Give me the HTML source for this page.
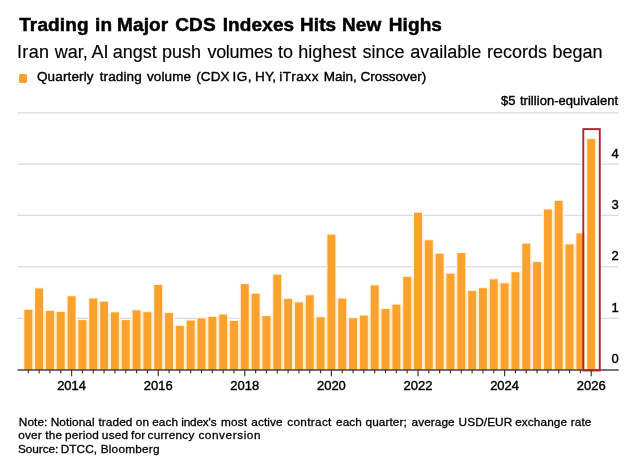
<!DOCTYPE html>
<html><head><meta charset="utf-8"><title>Trading in Major CDS Indexes Hits New Highs</title>
<style>
html,body{margin:0;padding:0;background:#fff;}
body{width:640px;height:462px;position:relative;overflow:hidden;font-family:"Liberation Sans",Arial,Helvetica,sans-serif;color:#000;}
.ln{position:absolute;left:0;width:640px;height:20px;line-height:20px;white-space:pre;}
.ln span{position:absolute;top:0;white-space:pre;}
.title{font-size:19px;font-weight:bold;-webkit-text-stroke:0.5px #000;}
.sub{font-size:18px;color:#000;-webkit-text-stroke:0.15px #000;}
.leg{font-size:13.5px;-webkit-text-stroke:0.4px #000;}
.ax{font-size:13px;-webkit-text-stroke:0.4px #000;}
.note{font-size:11.8px;-webkit-text-stroke:0.3px #000;}
#sq{position:absolute;left:18.6px;top:73.8px;width:8.8px;height:8.8px;background:#fba12e;border-radius:1.6px;}
.xl{position:absolute;width:60px;text-align:center;top:377.6px;line-height:15px;}
.yl{position:absolute;right:21.4px;line-height:15px;text-align:right;}
</style></head><body>
<svg width="640" height="462" viewBox="0 0 640 462" style="position:absolute;left:0;top:0">
<rect x="17.5" y="112.30" width="601.2" height="1.2" fill="#d9d9d9"/>
<rect x="17.5" y="163.60" width="601.2" height="1.2" fill="#d9d9d9"/>
<rect x="17.5" y="214.70" width="601.2" height="1.2" fill="#d9d9d9"/>
<rect x="17.5" y="266.20" width="601.2" height="1.2" fill="#d9d9d9"/>
<rect x="17.5" y="317.70" width="601.2" height="1.2" fill="#d9d9d9"/>
<rect x="23.05" y="308.75" width="10.5" height="61.25" fill="#fff6e2"/>
<rect x="33.88" y="287.40" width="10.5" height="82.60" fill="#fff6e2"/>
<rect x="44.70" y="309.90" width="10.5" height="60.10" fill="#fff6e2"/>
<rect x="55.52" y="311.00" width="10.5" height="59.00" fill="#fff6e2"/>
<rect x="66.35" y="295.25" width="10.5" height="74.75" fill="#fff6e2"/>
<rect x="77.17" y="319.10" width="10.5" height="50.90" fill="#fff6e2"/>
<rect x="88.00" y="297.50" width="10.5" height="72.50" fill="#fff6e2"/>
<rect x="98.82" y="300.70" width="10.5" height="69.30" fill="#fff6e2"/>
<rect x="109.65" y="311.40" width="10.5" height="58.60" fill="#fff6e2"/>
<rect x="120.47" y="319.10" width="10.5" height="50.90" fill="#fff6e2"/>
<rect x="131.30" y="309.30" width="10.5" height="60.70" fill="#fff6e2"/>
<rect x="142.12" y="311.20" width="10.5" height="58.80" fill="#fff6e2"/>
<rect x="152.95" y="284.00" width="10.5" height="86.00" fill="#fff6e2"/>
<rect x="163.78" y="312.10" width="10.5" height="57.90" fill="#fff6e2"/>
<rect x="174.60" y="324.90" width="10.5" height="45.10" fill="#fff6e2"/>
<rect x="185.43" y="319.60" width="10.5" height="50.40" fill="#fff6e2"/>
<rect x="196.25" y="317.40" width="10.5" height="52.60" fill="#fff6e2"/>
<rect x="207.07" y="315.90" width="10.5" height="54.10" fill="#fff6e2"/>
<rect x="217.90" y="313.60" width="10.5" height="56.40" fill="#fff6e2"/>
<rect x="228.72" y="320.00" width="10.5" height="50.00" fill="#fff6e2"/>
<rect x="239.55" y="283.10" width="10.5" height="86.90" fill="#fff6e2"/>
<rect x="250.38" y="292.80" width="10.5" height="77.20" fill="#fff6e2"/>
<rect x="261.20" y="315.10" width="10.5" height="54.90" fill="#fff6e2"/>
<rect x="272.02" y="273.70" width="10.5" height="96.30" fill="#fff6e2"/>
<rect x="282.85" y="297.90" width="10.5" height="72.10" fill="#fff6e2"/>
<rect x="293.68" y="301.40" width="10.5" height="68.60" fill="#fff6e2"/>
<rect x="304.50" y="294.30" width="10.5" height="75.70" fill="#fff6e2"/>
<rect x="315.32" y="316.25" width="10.5" height="53.75" fill="#fff6e2"/>
<rect x="326.15" y="233.70" width="10.5" height="136.30" fill="#fff6e2"/>
<rect x="336.97" y="297.50" width="10.5" height="72.50" fill="#fff6e2"/>
<rect x="347.80" y="317.20" width="10.5" height="52.80" fill="#fff6e2"/>
<rect x="358.62" y="314.60" width="10.5" height="55.40" fill="#fff6e2"/>
<rect x="369.45" y="284.40" width="10.5" height="85.60" fill="#fff6e2"/>
<rect x="380.27" y="308.00" width="10.5" height="62.00" fill="#fff6e2"/>
<rect x="391.10" y="303.70" width="10.5" height="66.30" fill="#fff6e2"/>
<rect x="401.93" y="275.90" width="10.5" height="94.10" fill="#fff6e2"/>
<rect x="412.75" y="211.75" width="10.5" height="158.25" fill="#fff6e2"/>
<rect x="423.57" y="239.30" width="10.5" height="130.70" fill="#fff6e2"/>
<rect x="434.40" y="252.80" width="10.5" height="117.20" fill="#fff6e2"/>
<rect x="445.22" y="272.70" width="10.5" height="97.30" fill="#fff6e2"/>
<rect x="456.05" y="252.10" width="10.5" height="117.90" fill="#fff6e2"/>
<rect x="466.88" y="290.00" width="10.5" height="80.00" fill="#fff6e2"/>
<rect x="477.70" y="287.20" width="10.5" height="82.80" fill="#fff6e2"/>
<rect x="488.52" y="278.30" width="10.5" height="91.70" fill="#fff6e2"/>
<rect x="499.35" y="282.30" width="10.5" height="87.70" fill="#fff6e2"/>
<rect x="510.17" y="271.25" width="10.5" height="98.75" fill="#fff6e2"/>
<rect x="521.00" y="242.70" width="10.5" height="127.30" fill="#fff6e2"/>
<rect x="531.82" y="261.10" width="10.5" height="108.90" fill="#fff6e2"/>
<rect x="542.65" y="208.50" width="10.5" height="161.50" fill="#fff6e2"/>
<rect x="553.47" y="199.90" width="10.5" height="170.10" fill="#fff6e2"/>
<rect x="564.30" y="243.40" width="10.5" height="126.60" fill="#fff6e2"/>
<rect x="575.12" y="232.40" width="10.5" height="137.60" fill="#fff6e2"/>
<rect x="585.95" y="138.10" width="10.5" height="231.90" fill="#fff6e2"/>
<rect x="32.05" y="309.75" width="3.32" height="60.25" fill="#ffefcc"/>
<rect x="42.88" y="310.90" width="3.32" height="59.10" fill="#ffefcc"/>
<rect x="53.70" y="312.00" width="3.32" height="58.00" fill="#ffefcc"/>
<rect x="64.52" y="312.00" width="3.32" height="58.00" fill="#ffefcc"/>
<rect x="75.35" y="320.10" width="3.32" height="49.90" fill="#ffefcc"/>
<rect x="86.17" y="320.10" width="3.32" height="49.90" fill="#ffefcc"/>
<rect x="97.00" y="301.70" width="3.32" height="68.30" fill="#ffefcc"/>
<rect x="107.82" y="312.40" width="3.32" height="57.60" fill="#ffefcc"/>
<rect x="118.65" y="320.10" width="3.32" height="49.90" fill="#ffefcc"/>
<rect x="129.47" y="320.10" width="3.32" height="49.90" fill="#ffefcc"/>
<rect x="140.30" y="312.20" width="3.32" height="57.80" fill="#ffefcc"/>
<rect x="151.12" y="312.20" width="3.32" height="57.80" fill="#ffefcc"/>
<rect x="161.95" y="313.10" width="3.32" height="56.90" fill="#ffefcc"/>
<rect x="172.78" y="325.90" width="3.32" height="44.10" fill="#ffefcc"/>
<rect x="183.60" y="325.90" width="3.32" height="44.10" fill="#ffefcc"/>
<rect x="194.43" y="320.60" width="3.32" height="49.40" fill="#ffefcc"/>
<rect x="205.25" y="318.40" width="3.32" height="51.60" fill="#ffefcc"/>
<rect x="216.07" y="316.90" width="3.32" height="53.10" fill="#ffefcc"/>
<rect x="226.90" y="321.00" width="3.32" height="49.00" fill="#ffefcc"/>
<rect x="237.72" y="321.00" width="3.32" height="49.00" fill="#ffefcc"/>
<rect x="248.55" y="293.80" width="3.32" height="76.20" fill="#ffefcc"/>
<rect x="259.38" y="316.10" width="3.32" height="53.90" fill="#ffefcc"/>
<rect x="270.20" y="316.10" width="3.32" height="53.90" fill="#ffefcc"/>
<rect x="281.02" y="298.90" width="3.32" height="71.10" fill="#ffefcc"/>
<rect x="291.85" y="302.40" width="3.32" height="67.60" fill="#ffefcc"/>
<rect x="302.68" y="302.40" width="3.32" height="67.60" fill="#ffefcc"/>
<rect x="313.50" y="317.25" width="3.32" height="52.75" fill="#ffefcc"/>
<rect x="324.32" y="317.25" width="3.32" height="52.75" fill="#ffefcc"/>
<rect x="335.15" y="298.50" width="3.32" height="71.50" fill="#ffefcc"/>
<rect x="345.97" y="318.20" width="3.32" height="51.80" fill="#ffefcc"/>
<rect x="356.80" y="318.20" width="3.32" height="51.80" fill="#ffefcc"/>
<rect x="367.62" y="315.60" width="3.32" height="54.40" fill="#ffefcc"/>
<rect x="378.45" y="309.00" width="3.32" height="61.00" fill="#ffefcc"/>
<rect x="389.27" y="309.00" width="3.32" height="61.00" fill="#ffefcc"/>
<rect x="400.10" y="304.70" width="3.32" height="65.30" fill="#ffefcc"/>
<rect x="410.93" y="276.90" width="3.32" height="93.10" fill="#ffefcc"/>
<rect x="421.75" y="240.30" width="3.32" height="129.70" fill="#ffefcc"/>
<rect x="432.57" y="253.80" width="3.32" height="116.20" fill="#ffefcc"/>
<rect x="443.40" y="273.70" width="3.32" height="96.30" fill="#ffefcc"/>
<rect x="454.22" y="273.70" width="3.32" height="96.30" fill="#ffefcc"/>
<rect x="465.05" y="291.00" width="3.32" height="79.00" fill="#ffefcc"/>
<rect x="475.88" y="291.00" width="3.32" height="79.00" fill="#ffefcc"/>
<rect x="486.70" y="288.20" width="3.32" height="81.80" fill="#ffefcc"/>
<rect x="497.52" y="283.30" width="3.32" height="86.70" fill="#ffefcc"/>
<rect x="508.35" y="283.30" width="3.32" height="86.70" fill="#ffefcc"/>
<rect x="519.17" y="272.25" width="3.32" height="97.75" fill="#ffefcc"/>
<rect x="530.00" y="262.10" width="3.32" height="107.90" fill="#ffefcc"/>
<rect x="540.82" y="262.10" width="3.32" height="107.90" fill="#ffefcc"/>
<rect x="551.65" y="209.50" width="3.32" height="160.50" fill="#ffefcc"/>
<rect x="562.47" y="244.40" width="3.32" height="125.60" fill="#ffefcc"/>
<rect x="573.30" y="244.40" width="3.32" height="125.60" fill="#ffefcc"/>
<rect x="584.12" y="233.40" width="3.32" height="136.60" fill="#ffefcc"/>
<rect x="583.3" y="129.1" width="16.5" height="241.6" fill="#ffffff"/>
<rect x="585.95" y="138.10" width="10.5" height="231.90" fill="#fff3d8"/>
<rect x="24.35" y="309.75" width="7.9" height="60.25" fill="#fba12e"/>
<rect x="35.17" y="288.40" width="7.9" height="81.60" fill="#fba12e"/>
<rect x="46.00" y="310.90" width="7.9" height="59.10" fill="#fba12e"/>
<rect x="56.82" y="312.00" width="7.9" height="58.00" fill="#fba12e"/>
<rect x="67.65" y="296.25" width="7.9" height="73.75" fill="#fba12e"/>
<rect x="78.47" y="320.10" width="7.9" height="49.90" fill="#fba12e"/>
<rect x="89.30" y="298.50" width="7.9" height="71.50" fill="#fba12e"/>
<rect x="100.12" y="301.70" width="7.9" height="68.30" fill="#fba12e"/>
<rect x="110.95" y="312.40" width="7.9" height="57.60" fill="#fba12e"/>
<rect x="121.77" y="320.10" width="7.9" height="49.90" fill="#fba12e"/>
<rect x="132.60" y="310.30" width="7.9" height="59.70" fill="#fba12e"/>
<rect x="143.43" y="312.20" width="7.9" height="57.80" fill="#fba12e"/>
<rect x="154.25" y="285.00" width="7.9" height="85.00" fill="#fba12e"/>
<rect x="165.08" y="313.10" width="7.9" height="56.90" fill="#fba12e"/>
<rect x="175.90" y="325.90" width="7.9" height="44.10" fill="#fba12e"/>
<rect x="186.73" y="320.60" width="7.9" height="49.40" fill="#fba12e"/>
<rect x="197.55" y="318.40" width="7.9" height="51.60" fill="#fba12e"/>
<rect x="208.38" y="316.90" width="7.9" height="53.10" fill="#fba12e"/>
<rect x="219.20" y="314.60" width="7.9" height="55.40" fill="#fba12e"/>
<rect x="230.03" y="321.00" width="7.9" height="49.00" fill="#fba12e"/>
<rect x="240.85" y="284.10" width="7.9" height="85.90" fill="#fba12e"/>
<rect x="251.68" y="293.80" width="7.9" height="76.20" fill="#fba12e"/>
<rect x="262.50" y="316.10" width="7.9" height="53.90" fill="#fba12e"/>
<rect x="273.32" y="274.70" width="7.9" height="95.30" fill="#fba12e"/>
<rect x="284.15" y="298.90" width="7.9" height="71.10" fill="#fba12e"/>
<rect x="294.98" y="302.40" width="7.9" height="67.60" fill="#fba12e"/>
<rect x="305.80" y="295.30" width="7.9" height="74.70" fill="#fba12e"/>
<rect x="316.62" y="317.25" width="7.9" height="52.75" fill="#fba12e"/>
<rect x="327.45" y="234.70" width="7.9" height="135.30" fill="#fba12e"/>
<rect x="338.27" y="298.50" width="7.9" height="71.50" fill="#fba12e"/>
<rect x="349.10" y="318.20" width="7.9" height="51.80" fill="#fba12e"/>
<rect x="359.93" y="315.60" width="7.9" height="54.40" fill="#fba12e"/>
<rect x="370.75" y="285.40" width="7.9" height="84.60" fill="#fba12e"/>
<rect x="381.57" y="309.00" width="7.9" height="61.00" fill="#fba12e"/>
<rect x="392.40" y="304.70" width="7.9" height="65.30" fill="#fba12e"/>
<rect x="403.23" y="276.90" width="7.9" height="93.10" fill="#fba12e"/>
<rect x="414.05" y="212.75" width="7.9" height="157.25" fill="#fba12e"/>
<rect x="424.88" y="240.30" width="7.9" height="129.70" fill="#fba12e"/>
<rect x="435.70" y="253.80" width="7.9" height="116.20" fill="#fba12e"/>
<rect x="446.52" y="273.70" width="7.9" height="96.30" fill="#fba12e"/>
<rect x="457.35" y="253.10" width="7.9" height="116.90" fill="#fba12e"/>
<rect x="468.18" y="291.00" width="7.9" height="79.00" fill="#fba12e"/>
<rect x="479.00" y="288.20" width="7.9" height="81.80" fill="#fba12e"/>
<rect x="489.82" y="279.30" width="7.9" height="90.70" fill="#fba12e"/>
<rect x="500.65" y="283.30" width="7.9" height="86.70" fill="#fba12e"/>
<rect x="511.47" y="272.25" width="7.9" height="97.75" fill="#fba12e"/>
<rect x="522.30" y="243.70" width="7.9" height="126.30" fill="#fba12e"/>
<rect x="533.12" y="262.10" width="7.9" height="107.90" fill="#fba12e"/>
<rect x="543.95" y="209.50" width="7.9" height="160.50" fill="#fba12e"/>
<rect x="554.77" y="200.90" width="7.9" height="169.10" fill="#fba12e"/>
<rect x="565.60" y="244.40" width="7.9" height="125.60" fill="#fba12e"/>
<rect x="576.42" y="233.40" width="7.9" height="136.60" fill="#fba12e"/>
<rect x="587.25" y="139.10" width="7.9" height="230.90" fill="#fba12e"/>
<rect x="17.5" y="369.30" width="601.2" height="1.4" fill="#3a3a3a"/>
<rect x="583.3" y="129.1" width="16.5" height="241.4" fill="none" stroke="#b3202c" stroke-width="1.9"/>
<rect x="27.70" y="370.00" width="1.2" height="3.3" fill="#3a3a3a"/>
<rect x="38.52" y="370.00" width="1.2" height="3.3" fill="#3a3a3a"/>
<rect x="49.35" y="370.00" width="1.2" height="3.3" fill="#3a3a3a"/>
<rect x="60.17" y="370.00" width="1.2" height="3.3" fill="#3a3a3a"/>
<rect x="71.00" y="370.00" width="1.2" height="6.3" fill="#3a3a3a"/>
<rect x="81.83" y="370.00" width="1.2" height="3.3" fill="#3a3a3a"/>
<rect x="92.65" y="370.00" width="1.2" height="3.3" fill="#3a3a3a"/>
<rect x="103.47" y="370.00" width="1.2" height="3.3" fill="#3a3a3a"/>
<rect x="114.30" y="370.00" width="1.2" height="3.3" fill="#3a3a3a"/>
<rect x="125.12" y="370.00" width="1.2" height="3.3" fill="#3a3a3a"/>
<rect x="135.95" y="370.00" width="1.2" height="3.3" fill="#3a3a3a"/>
<rect x="146.78" y="370.00" width="1.2" height="3.3" fill="#3a3a3a"/>
<rect x="157.60" y="370.00" width="1.2" height="6.3" fill="#3a3a3a"/>
<rect x="168.43" y="370.00" width="1.2" height="3.3" fill="#3a3a3a"/>
<rect x="179.25" y="370.00" width="1.2" height="3.3" fill="#3a3a3a"/>
<rect x="190.08" y="370.00" width="1.2" height="3.3" fill="#3a3a3a"/>
<rect x="200.90" y="370.00" width="1.2" height="3.3" fill="#3a3a3a"/>
<rect x="211.72" y="370.00" width="1.2" height="3.3" fill="#3a3a3a"/>
<rect x="222.55" y="370.00" width="1.2" height="3.3" fill="#3a3a3a"/>
<rect x="233.38" y="370.00" width="1.2" height="3.3" fill="#3a3a3a"/>
<rect x="244.20" y="370.00" width="1.2" height="6.3" fill="#3a3a3a"/>
<rect x="255.03" y="370.00" width="1.2" height="3.3" fill="#3a3a3a"/>
<rect x="265.85" y="370.00" width="1.2" height="3.3" fill="#3a3a3a"/>
<rect x="276.67" y="370.00" width="1.2" height="3.3" fill="#3a3a3a"/>
<rect x="287.50" y="370.00" width="1.2" height="3.3" fill="#3a3a3a"/>
<rect x="298.32" y="370.00" width="1.2" height="3.3" fill="#3a3a3a"/>
<rect x="309.15" y="370.00" width="1.2" height="3.3" fill="#3a3a3a"/>
<rect x="319.97" y="370.00" width="1.2" height="3.3" fill="#3a3a3a"/>
<rect x="330.80" y="370.00" width="1.2" height="6.3" fill="#3a3a3a"/>
<rect x="341.62" y="370.00" width="1.2" height="3.3" fill="#3a3a3a"/>
<rect x="352.45" y="370.00" width="1.2" height="3.3" fill="#3a3a3a"/>
<rect x="363.27" y="370.00" width="1.2" height="3.3" fill="#3a3a3a"/>
<rect x="374.10" y="370.00" width="1.2" height="3.3" fill="#3a3a3a"/>
<rect x="384.92" y="370.00" width="1.2" height="3.3" fill="#3a3a3a"/>
<rect x="395.75" y="370.00" width="1.2" height="3.3" fill="#3a3a3a"/>
<rect x="406.57" y="370.00" width="1.2" height="3.3" fill="#3a3a3a"/>
<rect x="417.40" y="370.00" width="1.2" height="6.3" fill="#3a3a3a"/>
<rect x="428.22" y="370.00" width="1.2" height="3.3" fill="#3a3a3a"/>
<rect x="439.05" y="370.00" width="1.2" height="3.3" fill="#3a3a3a"/>
<rect x="449.87" y="370.00" width="1.2" height="3.3" fill="#3a3a3a"/>
<rect x="460.70" y="370.00" width="1.2" height="3.3" fill="#3a3a3a"/>
<rect x="471.52" y="370.00" width="1.2" height="3.3" fill="#3a3a3a"/>
<rect x="482.35" y="370.00" width="1.2" height="3.3" fill="#3a3a3a"/>
<rect x="493.17" y="370.00" width="1.2" height="3.3" fill="#3a3a3a"/>
<rect x="504.00" y="370.00" width="1.2" height="6.3" fill="#3a3a3a"/>
<rect x="514.82" y="370.00" width="1.2" height="3.3" fill="#3a3a3a"/>
<rect x="525.65" y="370.00" width="1.2" height="3.3" fill="#3a3a3a"/>
<rect x="536.47" y="370.00" width="1.2" height="3.3" fill="#3a3a3a"/>
<rect x="547.30" y="370.00" width="1.2" height="3.3" fill="#3a3a3a"/>
<rect x="558.12" y="370.00" width="1.2" height="3.3" fill="#3a3a3a"/>
<rect x="568.95" y="370.00" width="1.2" height="3.3" fill="#3a3a3a"/>
<rect x="579.77" y="370.00" width="1.2" height="3.3" fill="#3a3a3a"/>
<rect x="590.60" y="370.00" width="1.2" height="6.3" fill="#3a3a3a"/>
</svg>
<div id="sq"></div>
<div id="title" class="ln title" style="top:15.22px"><span id="title_0" style="left:19.19px;letter-spacing:0.122px">Trading </span><span id="title_1" style="left:95.05px;letter-spacing:0.122px">in </span><span id="title_2" style="left:117.06px;letter-spacing:0.122px">Major </span><span id="title_3" style="left:175.29px;letter-spacing:0.122px">CDS </span><span id="title_4" style="left:222.69px;letter-spacing:0.122px">Indexes </span><span id="title_5" style="left:299.91px;letter-spacing:0.122px">Hits </span><span id="title_6" style="left:341.92px;letter-spacing:0.122px">New </span><span id="title_7" style="left:388.68px;letter-spacing:0.122px">Highs</span></div>
<div id="sub" class="ln sub" style="top:42.35px"><span id="sub_0" style="left:16.89px;letter-spacing:0.402px">Iran </span><span id="sub_1" style="left:54.72px">war, </span><span id="sub_2" style="left:91.55px">AI </span><span id="sub_3" style="left:112.83px">angst </span><span id="sub_4" style="left:161.96px">push </span><span id="sub_5" style="left:207.40px;letter-spacing:-0.264px">volumes </span><span id="sub_6" style="left:277.94px">to </span><span id="sub_7" style="left:298.20px">highest </span><span id="sub_8" style="left:362.44px">since </span><span id="sub_9" style="left:410.13px">available </span><span id="sub_10" style="left:486.91px">records </span><span id="sub_11" style="left:552.56px">began</span></div>
<div id="leg" class="ln leg" style="top:67.04px"><span id="leg_0" style="left:36.99px;letter-spacing:0.128px">Quarterly </span><span id="leg_1" style="left:99.67px;letter-spacing:0.128px">trading </span><span id="leg_2" style="left:146.92px;letter-spacing:0.128px">volume </span><span id="leg_3" style="left:196.13px;letter-spacing:0.128px">(CDX </span><span id="leg_4" style="left:232.50px;letter-spacing:0.467px">IG, </span><span id="leg_5" style="left:255.06px;letter-spacing:0.128px">HY, </span><span id="leg_6" style="left:279.19px;letter-spacing:0.603px">iTraxx </span><span id="leg_7" style="left:323.87px;letter-spacing:-0.042px">Main, </span><span id="leg_8" style="left:360.54px;letter-spacing:-0.046px">Crossover)</span></div>
<div id="unit" class="ln ax" style="top:91.20px"><span id="unit_0" style="left:501.09px;letter-spacing:0.035px">$5 </span><span id="unit_1" style="left:519.93px;letter-spacing:0.035px">trillion-equivalent</span></div>
<div id="n1" class="ln note" style="top:411.85px"><span id="n1_0" style="left:18.80px;letter-spacing:0.092px">Note: </span><span id="n1_1" style="left:50.67px;letter-spacing:0.092px">Notional </span><span id="n1_2" style="left:98.47px;letter-spacing:0.092px">traded </span><span id="n1_3" style="left:135.79px;letter-spacing:0.092px">on </span><span id="n1_4" style="left:152.18px;letter-spacing:0.092px">each </span><span id="n1_5" style="left:181.27px;letter-spacing:-0.177px">index's </span><span id="n1_6" style="left:221.08px;letter-spacing:0.092px">most </span><span id="n1_7" style="left:251.34px;letter-spacing:0.092px">active </span><span id="n1_8" style="left:287.18px;letter-spacing:0.320px">contract </span><span id="n1_9" style="left:336.03px;letter-spacing:0.092px">each </span><span id="n1_10" style="left:365.52px;letter-spacing:0.092px">quarter; </span><span id="n1_11" style="left:411.49px;letter-spacing:0.092px">average </span><span id="n1_12" style="left:458.59px;letter-spacing:0.092px">USD/EUR </span><span id="n1_13" style="left:515.23px;letter-spacing:0.092px">exchange </span><span id="n1_14" style="left:570.83px;letter-spacing:0.092px">rate</span></div>
<div id="n2" class="ln note" style="top:425.35px"><span id="n2_0" style="left:18.15px;letter-spacing:0.215px">over </span><span id="n2_1" style="left:45.21px;letter-spacing:0.215px">the </span><span id="n2_2" style="left:65.07px;letter-spacing:0.215px">period </span><span id="n2_3" style="left:101.87px;letter-spacing:0.215px">used </span><span id="n2_4" style="left:131.00px;letter-spacing:0.215px">for </span><span id="n2_5" style="left:147.59px;letter-spacing:0.215px">currency </span><span id="n2_6" style="left:198.38px;letter-spacing:0.568px">conversion</span></div>
<div id="n3" class="ln note" style="top:439.10px"><span id="n3_0" style="left:18.03px;letter-spacing:-0.067px">Source: </span><span id="n3_1" style="left:60.82px;letter-spacing:0.036px">DTCC, </span><span id="n3_2" style="left:100.70px;letter-spacing:0.223px">Bloomberg</span></div>
<div class="xl ax" style="left:41.60px">2014</div>
<div class="xl ax" style="left:128.20px">2016</div>
<div class="xl ax" style="left:214.80px">2018</div>
<div class="xl ax" style="left:301.40px">2020</div>
<div class="xl ax" style="left:388.00px">2022</div>
<div class="xl ax" style="left:474.60px">2024</div>
<div class="xl ax" style="left:561.20px">2026</div>
<div class="yl ax" style="top:145.50px">4</div>
<div class="yl ax" style="top:196.60px">3</div>
<div class="yl ax" style="top:248.10px">2</div>
<div class="yl ax" style="top:299.60px">1</div>
<div class="yl ax" style="top:351.30px">0</div>
</body></html>
